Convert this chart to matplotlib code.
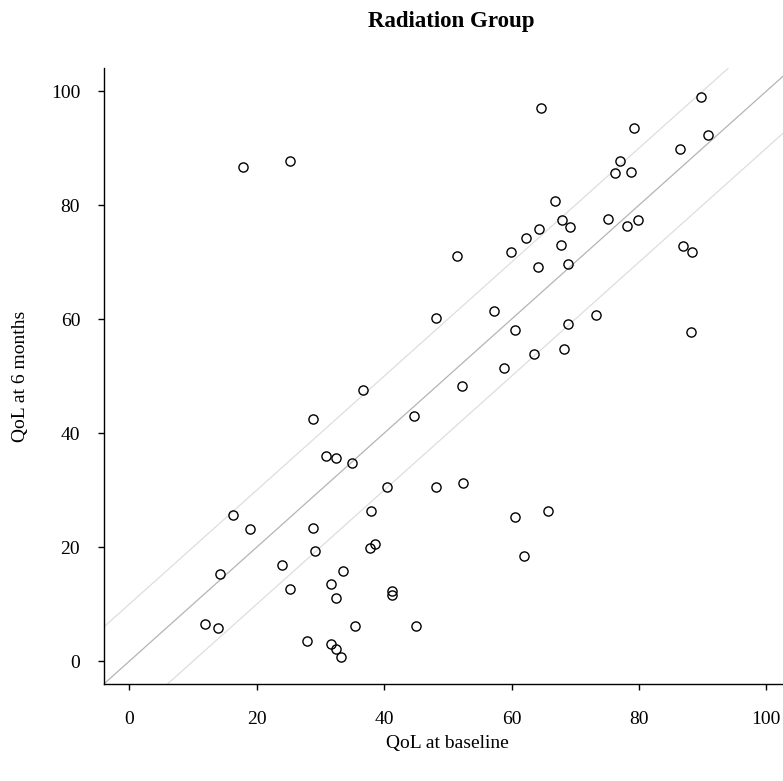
import matplotlib
matplotlib.use("Agg")
import matplotlib.pyplot as plt

plt.rcParams["font.family"] = ["Liberation Serif", "DejaVu Serif"]

# QoL scores for the radiation group
qol_baseline = [
    17.8, 25.3, 64.6, 89.8, 79.3, 86.4, 90.8, 77.1, 76.2, 78.7,
    66.9, 67.9, 64.3, 62.3, 59.9, 51.5, 69.1, 75.2, 78.2, 79.9,
    67.7, 64.2, 68.8, 48.1, 57.3, 60.5, 68.8, 73.3, 63.5, 68.2,
    58.8, 52.2, 86.9, 88.4, 88.1, 36.7, 28.8, 44.7, 30.9, 32.5,
    16.2, 18.9, 14.2, 11.9, 14.0, 28.9, 29.2, 24.0, 25.3, 31.7,
    32.5, 27.9, 31.6, 32.4, 33.2, 35.0, 40.5, 48.1, 52.4, 38.0,
    60.6, 65.7, 37.8, 38.6, 62.0, 33.5, 41.2, 41.3, 35.4, 45.0,
]
qol_6months = [
    86.7, 87.7, 97.1, 98.9, 93.6, 89.9, 92.3, 87.7, 85.6, 85.9,
    80.7, 77.4, 75.9, 74.2, 71.8, 71.1, 76.1, 77.5, 76.3, 77.4,
    73.0, 69.1, 69.7, 60.2, 61.5, 58.1, 59.1, 60.8, 53.9, 54.7,
    51.5, 48.3, 72.9, 71.7, 57.7, 47.5, 42.5, 43.0, 36.0, 35.7,
    25.7, 23.2, 15.3, 6.5, 5.8, 23.3, 19.4, 16.8, 12.6, 13.6,
    11.0, 3.5, 3.1, 2.1, 0.75, 34.7, 30.5, 30.5, 31.3, 26.4,
    25.3, 26.4, 19.9, 20.5, 18.5, 15.8, 12.3, 11.7, 6.2, 6.2,
]

# reference lines: no change, and +/- 10 points
line_offsets = [-10, 0, 10]
line_colors = ["#dedede", "#b4b4b4", "#dedede"]

ticks = [0, 20, 40, 60, 80, 100]
tick_labels = ["0", "20", "40", "60", "80", "100"]

fig = plt.figure(figsize=(7.83, 7.81), dpi=100)
ax = fig.add_axes([0.1326, 0.1242, 0.8787, 0.7883])

for off, col in zip(line_offsets, line_colors):
    ax.axline((0, off), slope=1, color=col, lw=0.9, zorder=1)

ax.plot(qol_baseline, qol_6months, linestyle="none", marker="o",
        markersize=6.6, markerfacecolor="none", markeredgecolor="black",
        markeredgewidth=1.0, zorder=3)

ax.set_xlim(-4, 104)
ax.set_ylim(-4, 104)
ax.set_xticks(ticks)
ax.set_xticklabels(tick_labels)
ax.set_yticks(ticks)
ax.set_yticklabels(tick_labels)

for side in ("top", "right"):
    ax.spines[side].set_visible(False)
for side in ("left", "bottom"):
    ax.spines[side].set_linewidth(1.0)
    ax.spines[side].set_color("black")

ax.tick_params(axis="x", length=4, width=1.0, pad=15.5, labelsize=14)
ax.tick_params(axis="y", length=4, width=1.0, pad=13, labelsize=14)

ax.set_xlabel("QoL at baseline", fontsize=14, labelpad=5)
ax.set_ylabel("QoL at 6 months", fontsize=14, labelpad=15.5)
fig.text(0.576, 0.972, "Radiation Group", ha="center", va="center",
         fontsize=16.5, fontweight="bold")

fig.savefig("out.png", dpi=100)
